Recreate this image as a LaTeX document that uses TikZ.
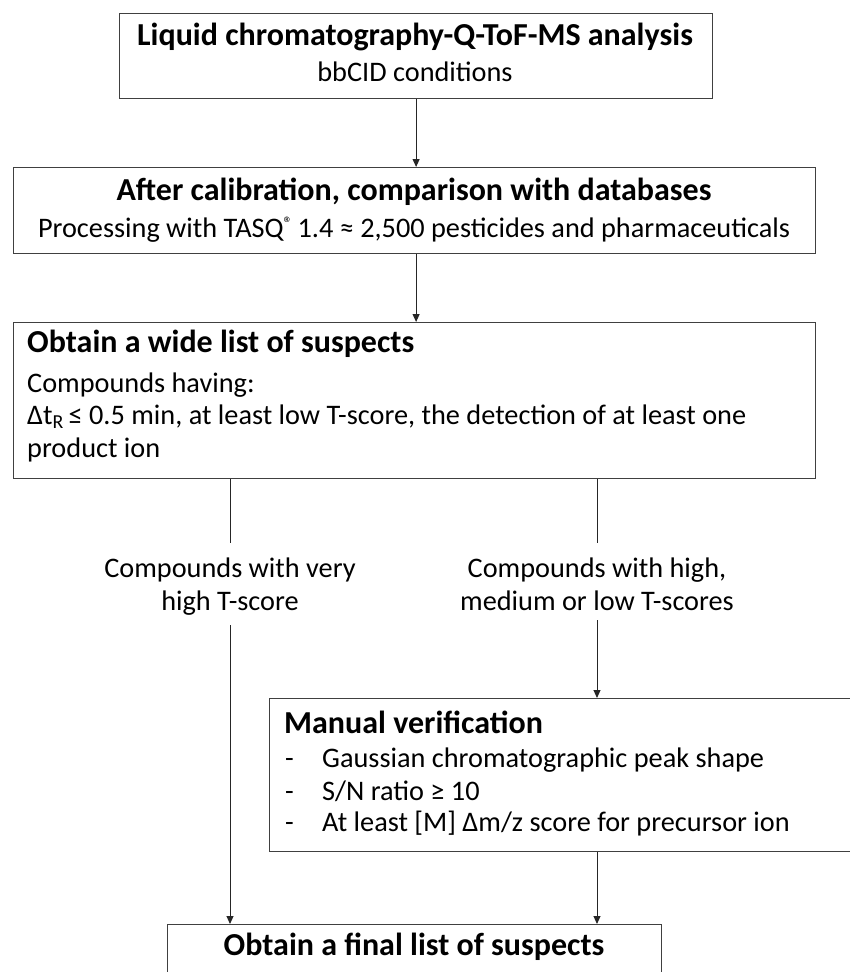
\documentclass[tikz,border=0pt]{standalone}
\usepackage{fontspec}
\setmainfont{Carlito}
\usetikzlibrary{arrows.meta}
\begin{document}
\begin{tikzpicture}[x=1pt,y=-1pt,
  box/.style={draw=black!75, line width=1.2pt, inner sep=0pt, anchor=north west},
  ttl/.style={font=\fontsize{32}{38}\selectfont\bfseries, inner sep=0pt, anchor=base},
  body/.style={font=\fontsize{28.3}{33}\selectfont, inner sep=0pt, anchor=base},
  lab/.style={font=\fontsize{28.3}{33}\selectfont, inner sep=0pt, align=center, anchor=base},
  conn/.style={line width=1pt, draw=black!85},
  arr/.style={conn, -{Triangle[length=8pt,width=7pt]}}]
\useasboundingbox (0,0) rectangle (850,972);
\clip (0,0) rectangle (850,972);
% boxes
\node[box, minimum width=593pt, minimum height=85pt] (b1) at (119,13) {};
\node[box, minimum width=802pt, minimum height=86pt] (b2) at (13,167) {};
\node[box, minimum width=802pt, minimum height=156pt] (b3) at (13,322) {};
\node[box, minimum width=620pt, minimum height=153pt] (b4) at (269,698) {};
\node[box, minimum width=494pt, minimum height=120pt] (fin) at (167,924) {};
% texts
\node[ttl] (t1a) at (415,45) {Liquid chromatography-Q-ToF-MS analysis};
\node[body] (t1b) at (415,81) {bbCID conditions};
\node[ttl] (t2a) at (414,200) {After calibration, comparison with databases};
\node[body] (t2b) at (414,237) {Processing with TASQ{\fontsize{18}{18}\selectfont\raisebox{8pt}{®}}\,1.4 ≈ 2,500 pesticides and pharmaceuticals};
\node[ttl, anchor=base west] (t3a) at (27,352) {Obtain a wide list of suspects};
\node[body, anchor=base west] (t3b) at (27,392) {Compounds having:};
\node[body, anchor=base west] (t3c) at (27,424) {Δt\textsubscript{R}\,≤ 0.5 min, at least low T-score, the detection of at least one};
\node[body, anchor=base west] (t3d) at (27,457) {product ion};
\node[lab] (l1) at (230,610) {Compounds with very\\high T-score};
\node[lab] (l2) at (597,610) {Compounds with high,\\medium or low T-scores};
\node[ttl, anchor=base west] (t4a) at (284,733) {Manual verification};
\node[body, anchor=base west] (d1) at (285,767) {-};
\node[body, anchor=base west] (d2) at (285,800) {-};
\node[body, anchor=base west] (d3) at (285,831) {-};
\node[body, anchor=base west] (t4b) at (322,767) {Gaussian chromatographic peak shape};
\node[body, anchor=base west] (t4c) at (322,800) {S/N ratio ≥ 10};
\node[body, anchor=base west] (t4d) at (322,831) {At least [M] Δm/z score for precursor ion};
\node[ttl] (t5a) at (414,955) {Obtain a final list of suspects};
% connectors
\draw[arr] (b1.south) -- (b1.south |- b2.north);
\draw[arr] (b1.south |- b2.south) -- (b1.south |- b3.north);
\draw[conn] (l1 |- b3.south) -- ([yshift=14pt]l1.north);
\draw[conn] (l2 |- b3.south) -- ([yshift=14pt]l2.north);
\draw[arr] ([yshift=-10pt]l1.south) -- (l1 |- fin.north);
\draw[arr] ([yshift=-10pt]l2.south) -- (l2 |- b4.north);
\draw[arr] (l2 |- b4.south) -- (l2 |- fin.north);
\end{tikzpicture}
\end{document}
